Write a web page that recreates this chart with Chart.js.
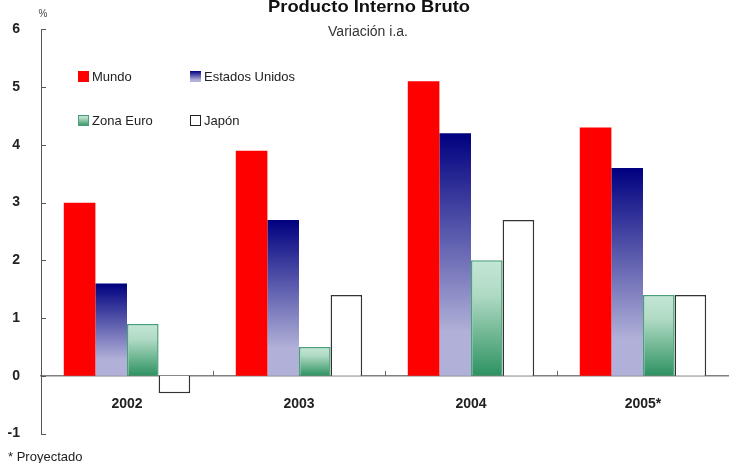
<!DOCTYPE html>
<html>
<head>
<meta charset="utf-8">
<script src="https://cdn.jsdelivr.net/npm/chart.js@4.4.1/dist/chart.umd.min.js"></script>
<style>
  html, body { margin: 0; padding: 0; background: #fff; }
  #wrap { width: 729px; height: 463px; position: relative; }
</style>
</head>
<body>
<div id="wrap"><canvas id="myChart" width="729" height="463"></canvas></div>
<script>
// PIB, variación interanual (%)
const years = ["2002", "2003", "2004", "2005*"];
const mundo = [3.0, 3.9, 5.1, 4.3];
const estadosUnidos = [1.6, 2.7, 4.2, 3.6];
const zonaEuro = [0.9, 0.5, 2.0, 1.4];
const japon = [-0.3, 1.4, 2.7, 1.4];
const yTicks = [-1, 0, 1, 2, 3, 4, 5, 6];

const FONT = "'Liberation Sans', Arial, sans-serif";

// gradient stretched over each bar, from its top down to zero
function barGradient(stops) {
  return (c) => {
    const chart = c.chart;
    if (!chart.chartArea || c.raw === undefined) return stops[stops.length - 1][1];
    const y = chart.scales.y;
    const top = y.getPixelForValue(c.raw);
    const base = y.getPixelForValue(0);
    const g = chart.ctx.createLinearGradient(0, Math.min(top, base), 0, Math.max(top, base));
    stops.forEach(s => g.addColorStop(s[0], s[1]));
    return g;
  };
}

const usStops = [[0, "#000080"], [0.82, "#b0b0d8"], [1, "#b0b0d8"]];
const euStops = [[0, "#c4e6d5"], [0.3, "#b0dac4"], [1, "#2d9261"]];

const legendItems = [
  { label: "Mundo", fill: "#ff0000", stroke: null, col: 0, row: 0 },
  { label: "Estados Unidos", fill: usStops, stroke: null, col: 1, row: 0 },
  { label: "Zona Euro", fill: euStops, stroke: "#4aa07a", col: 0, row: 1 },
  { label: "Japón", fill: "#ffffff", stroke: "#222", col: 1, row: 1 },
];

// text squeezed or stretched to a given width
function fitText(ctx, text, cx, y, width) {
  const w = ctx.measureText(text).width;
  ctx.save();
  ctx.translate(cx, y);
  ctx.scale(width / w, 1);
  ctx.fillText(text, 0, 0);
  ctx.restore();
}

const decorations = {
  id: "decorations",
  afterDraw(chart) {
    const ctx = chart.ctx;
    const x = chart.scales.x;
    const y = chart.scales.y;
    const left = chart.chartArea.left;
    ctx.save();

    // inward ticks on the value axis
    ctx.strokeStyle = "#555";
    ctx.lineWidth = 1;
    yTicks.forEach(v => {
      const py = Math.round(y.getPixelForValue(v)) + 0.5;
      ctx.beginPath();
      ctx.moveTo(left, py);
      ctx.lineTo(left + 5, py);
      ctx.stroke();
    });

    // category separators standing on the zero line
    const zero = y.getPixelForValue(0);
    const half = (x.getPixelForValue(1) - x.getPixelForValue(0)) / 2;
    ctx.strokeStyle = "#666";
    for (let i = 1; i < years.length; i++) {
      const px = Math.round(x.getPixelForValue(i) - half) + 0.5;
      ctx.beginPath();
      ctx.moveTo(px, zero);
      ctx.lineTo(px, zero - 5);
      ctx.stroke();
    }

    // titles
    ctx.fillStyle = "#111";
    ctx.textAlign = "center";
    ctx.textBaseline = "alphabetic";
    ctx.font = "bold 17px " + FONT;
    fitText(ctx, "Producto Interno Bruto", 369, 12, 202);
    ctx.fillStyle = "#333";
    ctx.font = "14px " + FONT;
    ctx.fillText("Variación i.a.", 368, 36);
    ctx.font = "10px " + FONT;
    ctx.fillStyle = "#444";
    ctx.fillText("%", 43, 17);

    // footnote
    ctx.textAlign = "left";
    ctx.font = "13px " + FONT;
    ctx.fillStyle = "#222";
    ctx.fillText("* Proyectado", 8, 461);

    // legend, two columns by two rows
    ctx.font = "13px " + FONT;
    ctx.textBaseline = "middle";
    legendItems.forEach(it => {
      const bx = 78 + it.col * 112;
      const by = 71 + it.row * 44;
      let fill = it.fill;
      if (Array.isArray(fill)) {
        const g = ctx.createLinearGradient(0, by, 0, by + 11);
        fill.forEach(s => g.addColorStop(s[0], s[1]));
        fill = g;
      }
      ctx.fillStyle = fill;
      ctx.fillRect(bx, by, 11, 11);
      if (it.stroke) {
        ctx.strokeStyle = it.stroke;
        ctx.lineWidth = 1;
        ctx.strokeRect(bx + 0.5, by + 0.5, 10, 10);
      }
      ctx.fillStyle = "#222";
      ctx.fillText(it.label, bx + 14, by + 6);
    });
    ctx.restore();
  }
};

const ctx = document.getElementById("myChart").getContext("2d");

new Chart(ctx, {
  type: "bar",
  data: {
    labels: years,
    datasets: [
      { label: "Mundo", data: mundo, backgroundColor: "#ff0000", borderWidth: 0 },
      { label: "Estados Unidos", data: estadosUnidos, backgroundColor: barGradient(usStops), borderWidth: 0 },
      { label: "Zona Euro", data: zonaEuro, backgroundColor: barGradient(euStops), borderColor: "#4aa07a", borderWidth: 1.5 },
      { label: "Japón", data: japon, backgroundColor: "#ffffff", borderColor: "#333", borderWidth: 1.5 },
    ],
  },
  options: {
    responsive: false,
    animation: false,
    devicePixelRatio: 1,
    categoryPercentage: 0.735,
    barPercentage: 1,
    layout: { padding: { top: 29, bottom: 28, left: 0, right: 0 } },
    plugins: {
      legend: { display: false },
      tooltip: { enabled: false },
    },
    scales: {
      x: {
        position: { y: 0 },
        z: 1,
        grid: { display: true, drawOnChartArea: false, drawTicks: false },
        border: { display: true, color: "#808080", width: 1.5 },
        ticks: {
          padding: 20,
          color: "#222",
          font: { family: FONT, size: 14, weight: "bold" },
        },
      },
      y: {
        min: -1,
        max: 6,
        afterFit: (s) => { s.width = 41; },
        grid: { display: false, drawTicks: false },
        border: { display: true, color: "#555", width: 1 },
        ticks: {
          stepSize: 1,
          padding: 21,
          color: "#222",
          font: { family: FONT, size: 14, weight: "bold" },
        },
      },
    },
  },
  plugins: [decorations],
});
</script>
</body>
</html>
